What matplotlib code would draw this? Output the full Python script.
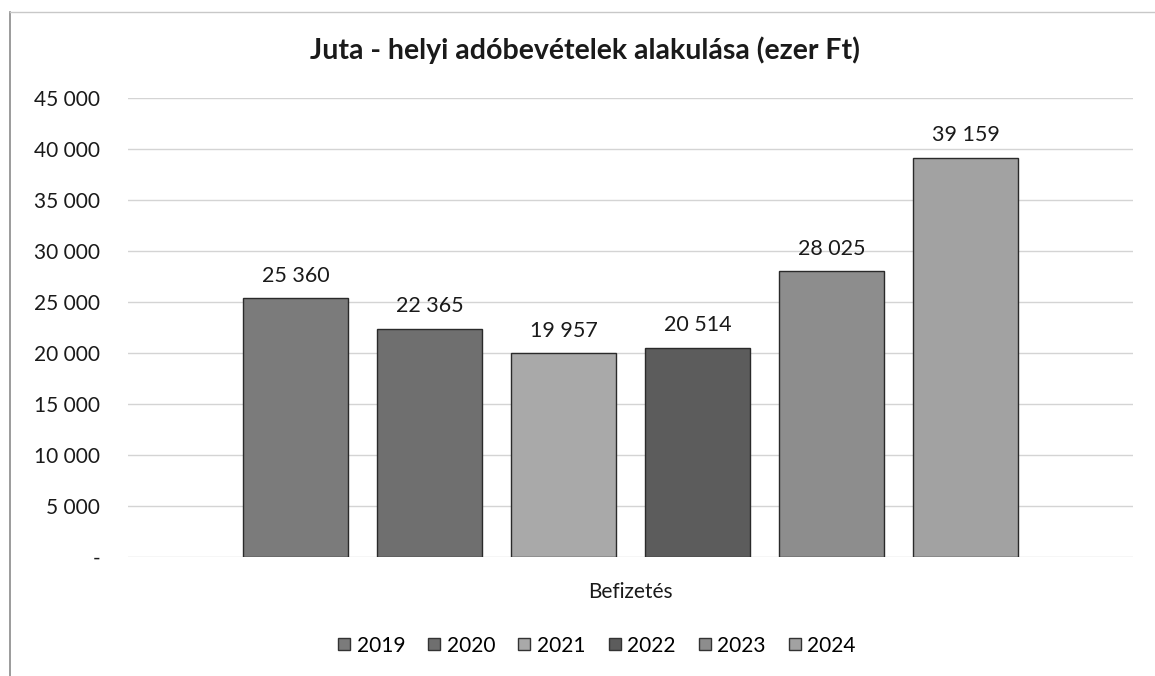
import matplotlib.pyplot as plt
from matplotlib.lines import Line2D
import numpy as np

# %% data
years = ['2019', '2020', '2021', '2022', '2023', '2024']
values = [25360, 22365, 19957, 20514, 28025, 39159]
colors = ['#7b7b7b', '#6f6f6f', '#a9a9a9', '#5c5c5c', '#8d8d8d', '#a2a2a2']
yticks = [0, 5000, 10000, 15000, 20000, 25000, 30000, 35000, 40000, 45000]
category = 'Befizetés'
title = 'Juta - helyi adóbevételek alakulása (ezer Ft)'


def _fmt(v):
    if v == 0:
        return '-'
    return '{:,}'.format(int(v)).replace(',', ' ')


plt.rcParams['font.family'] = ['Lato', 'DejaVu Sans']

fig = plt.figure(figsize=(11.55, 6.76), dpi=100)
ax = fig.add_axes([0.1108, 0.176, 0.8702, 0.679])

# bar geometry in data units: one group centred at 0
step = 1.0
width = 105 / 134.0
xs = (np.arange(len(values)) - (len(values) - 1) / 2.0) * step

for x, v, c, yr in zip(xs, values, colors, years):
    ax.bar(x, v, width=width, color=c, edgecolor='#2a2a2a', linewidth=1.0, label=yr)
    ax.annotate(_fmt(v), (x, v), xytext=(0, 9), textcoords='offset points',
                ha='center', va='bottom', fontsize=15.5, color='#1a1a1a')

ax.set_xlim(-3.75, 3.75)
ax.set_ylim(0, 45000)
ax.set_yticks(yticks)
ax.set_yticklabels([_fmt(t) for t in yticks], fontsize=15, color='#1a1a1a')
ax.set_xticks([0])
ax.set_xticklabels([category], fontsize=15, color='#1a1a1a')
ax.tick_params(axis='both', length=0, pad=20)
ax.tick_params(axis='x', pad=18)
ax.yaxis.grid(True, color='#d4d4d4', linewidth=1.0)
ax.set_axisbelow(True)
for s in ax.spines.values():
    s.set_visible(False)

fig.text(0.5065, 0.925, title, ha='center', va='center', fontsize=20.5,
         fontweight='bold', color='#1a1a1a')

handles = [Line2D([], [], marker='s', linestyle='none', markersize=9,
                  markerfacecolor=c, markeredgecolor='#333333')
           for c in colors]
fig.legend(handles, years, loc='center', bbox_to_anchor=(0.515, 0.045),
           ncol=6, frameon=False, fontsize=15, handletextpad=0.1,
           columnspacing=0.9, handlelength=1.0)

# scan frame edges
fig.add_artist(Line2D([0.009, 0.009], [0.0, 0.982], color='#8a8a8a', linewidth=1.2))
fig.add_artist(Line2D([0.009, 1.0], [0.982, 0.982], color='#c8c8c8', linewidth=1.0))

fig.savefig('out.png', dpi=100)
